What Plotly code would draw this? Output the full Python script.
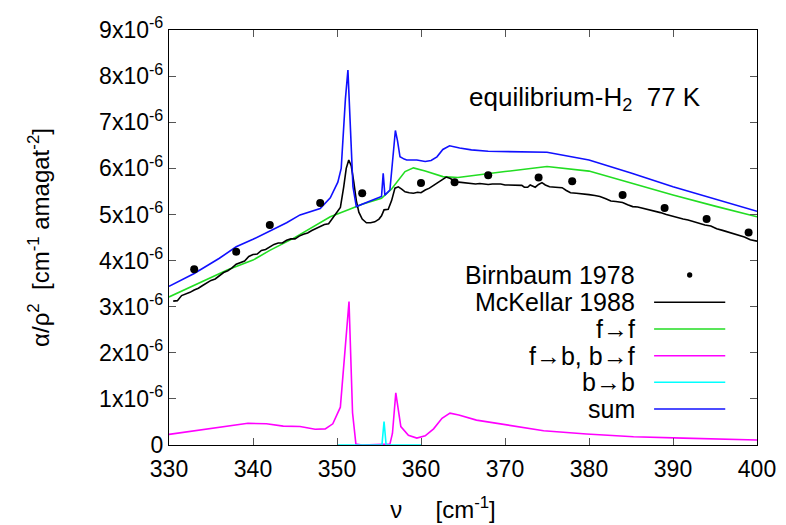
import plotly.graph_objects as go

E = 1e-6  # unit of the y values below

# Birnbaum 1978 (measured points)
birn_x = [333.0, 338.0, 342.0, 348.0, 353.0, 360.0, 364.0, 368.0, 374.0, 378.0, 384.0, 389.0, 394.0, 399.0]
birn_y = [3.81, 4.19, 4.77, 5.25, 5.46, 5.68, 5.70, 5.85, 5.80, 5.72, 5.42, 5.14, 4.90, 4.61]

# McKellar 1988
mck_x = [330.5, 331.0, 331.5, 332.0, 332.5, 333.0, 333.5, 334.0, 334.5, 335.0, 335.5, 336.0, 336.5, 337.0,
         337.5, 338.0, 338.5, 339.0, 339.5, 340.0, 340.5, 341.0, 341.5, 342.0, 342.5, 343.0, 343.5, 344.0,
         344.5, 345.0, 345.5, 346.0, 346.5, 347.0, 347.5, 348.0, 348.5, 349.0, 349.5, 350.0, 350.4, 350.8,
         351.1, 351.4, 351.7, 352.0, 352.3, 352.6, 353.0, 353.5, 354.0, 354.5, 355.0, 355.3, 355.6, 356.1,
         356.5, 356.9, 357.3, 357.7, 358.1, 358.6, 359.1, 359.6, 360.0, 360.5, 361.0, 361.5, 362.0, 362.5,
         363.0, 363.5, 364.0, 364.5, 365.0, 365.5, 366.0, 366.5, 367.0, 367.5, 368.0, 368.5, 369.0, 369.5,
         370.0, 370.5, 371.0, 371.5, 372.0, 372.3, 372.7, 373.0, 373.3, 373.6, 374.0, 374.4, 374.8, 375.3,
         376.0, 376.8, 377.3, 377.8, 378.5, 379.3, 380.0, 380.7, 381.3, 382.0, 382.6, 383.2, 384.0, 384.6,
         385.2, 385.8, 386.5, 387.2, 387.8, 388.5, 389.2, 389.8, 390.5, 391.2, 391.8, 392.5, 393.2, 393.8,
         394.5, 395.2, 395.8, 396.5, 397.2, 397.8, 398.5, 399.2, 400.0]
mck_y = [3.12, 3.13, 3.24, 3.27, 3.31, 3.36, 3.40, 3.46, 3.52, 3.57, 3.60, 3.68, 3.74, 3.78,
         3.84, 3.92, 3.96, 3.99, 4.09, 4.13, 4.14, 4.22, 4.24, 4.30, 4.35, 4.38, 4.38, 4.44,
         4.47, 4.47, 4.53, 4.57, 4.60, 4.65, 4.69, 4.74, 4.78, 4.80, 4.92, 5.05, 5.15, 5.60,
         6.00, 6.18, 6.05, 5.70, 5.30, 5.05, 4.90, 4.82, 4.82, 4.84, 4.90, 4.97, 5.10, 5.11,
         5.30, 5.57, 5.60, 5.55, 5.49, 5.47, 5.46, 5.48, 5.47, 5.53, 5.57, 5.63, 5.69, 5.76,
         5.81, 5.78, 5.72, 5.70, 5.69, 5.68, 5.66, 5.66, 5.67, 5.66, 5.65, 5.66, 5.66, 5.66,
         5.64, 5.64, 5.64, 5.63, 5.63, 5.59, 5.59, 5.64, 5.62, 5.59, 5.65, 5.69, 5.64, 5.60,
         5.59, 5.58, 5.52, 5.47, 5.46, 5.45, 5.43, 5.41, 5.39, 5.34, 5.29, 5.28, 5.26, 5.21,
         5.17, 5.16, 5.13, 5.10, 5.08, 5.04, 5.00, 4.97, 4.92, 4.90, 4.88, 4.84, 4.79, 4.77,
         4.75, 4.69, 4.66, 4.62, 4.57, 4.55, 4.51, 4.45, 4.42]

# f->f
ff_x = [330.0, 332.0, 334.9, 337.0, 340.0, 342.0, 344.8, 347.0, 349.2, 351.5, 353.0, 355.3, 356.5,
        358.1, 359.1, 360.5, 362.6, 364.4, 366.0, 370.0, 375.0, 380.0, 385.0, 390.0, 395.0, 400.0]
ff_y = [3.21, 3.38, 3.62, 3.80, 4.01, 4.22, 4.48, 4.72, 4.95, 5.11, 5.22, 5.35, 5.55,
        5.93, 6.01, 5.94, 5.82, 5.80, 5.84, 5.93, 6.04, 5.94, 5.68, 5.42, 5.18, 4.95]

# f->b, b->f
fb_x = [330.0, 335.0, 339.4, 341.6, 343.6, 345.6, 347.4, 348.6, 349.5, 350.4, 351.43, 351.85, 352.25,
        353.0, 356.3, 356.6, 357.0, 357.6, 358.5, 359.5, 360.5, 361.5, 362.5, 363.45, 364.5, 366.6,
        370.2, 374.6, 379.7, 385.3, 391.2, 400.0]
fb_y = [0.23, 0.35, 0.47, 0.46, 0.41, 0.40, 0.34, 0.35, 0.46, 0.82, 3.11, 0.70, 0.02,
        0.0, 0.02, 0.25, 1.13, 0.40, 0.21, 0.15, 0.20, 0.35, 0.58, 0.69, 0.65, 0.54,
        0.43, 0.31, 0.24, 0.18, 0.15, 0.11]

# b->b
bb_x = [350.0, 355.35, 355.6, 355.85, 360.0]
bb_y = [0.0, 0.0, 0.51, 0.0, 0.0]

# sum
sum_x = [330.0, 333.0, 336.0, 338.0, 340.0, 342.0, 344.0, 345.6, 347.0, 348.0, 349.2, 350.1, 350.5,
         351.0, 351.3, 351.6, 351.9, 352.3, 353.0, 354.0, 355.3, 355.5, 355.7, 356.3, 356.6, 356.95,
         357.2, 357.5, 358.0, 358.3, 359.5, 360.5, 361.2, 361.9, 362.6, 363.4, 364.6, 366.0, 368.0,
         370.0, 372.0, 375.0, 380.0, 385.0, 390.0, 395.0, 400.0]
sum_y = [3.44, 3.72, 4.05, 4.30, 4.46, 4.64, 4.82, 4.99, 5.07, 5.13, 5.36, 5.70, 6.00,
         7.50, 8.13, 7.00, 5.60, 5.17, 5.22, 5.28, 5.39, 5.89, 5.42, 5.53, 6.20, 6.82,
         6.60, 6.25, 6.20, 6.18, 6.18, 6.15, 6.17, 6.25, 6.41, 6.49, 6.44, 6.40, 6.37,
         6.36, 6.36, 6.35, 6.18, 5.90, 5.60, 5.33, 5.07]

y_tick_vals = [0, 1, 2, 3, 4, 5, 6, 7, 8, 9]
y_tick_text = ["0"] + ["%dx10<sup>-6</sup>" % v for v in y_tick_vals[1:]]
x_tick_vals = [330, 340, 350, 360, 370, 380, 390, 400]

legend_labels = ["Birnbaum 1978", "McKellar 1988", "f\u2192f", "f\u2192b, b\u2192f", "b\u2192b", "sum"]
legend_colors = ["black", "black", "#22dd22", "#ff00ff", "#00ffff", "#1010ff"]

FONT = "Liberation Sans, Arial, sans-serif"


def sc(vals):
    return [v * E for v in vals]


fig = go.Figure()
lw = 1.6
fig.add_trace(go.Scatter(x=fb_x, y=sc(fb_y), mode="lines", line=dict(color=legend_colors[3], width=lw),
                         showlegend=False, cliponaxis=False))
fig.add_trace(go.Scatter(x=bb_x, y=sc(bb_y), mode="lines", line=dict(color=legend_colors[4], width=lw),
                         showlegend=False, cliponaxis=False))
fig.add_trace(go.Scatter(x=ff_x, y=sc(ff_y), mode="lines", line=dict(color=legend_colors[2], width=lw),
                         showlegend=False))
fig.add_trace(go.Scatter(x=mck_x, y=sc(mck_y), mode="lines", line=dict(color="black", width=lw),
                         showlegend=False))
fig.add_trace(go.Scatter(x=sum_x, y=sc(sum_y), mode="lines", line=dict(color=legend_colors[5], width=lw),
                         showlegend=False))
fig.add_trace(go.Scatter(x=birn_x, y=sc(birn_y), mode="markers",
                         marker=dict(color="black", size=8), showlegend=False))

# gnuplot-style key: right-aligned text followed by sample
key_text_right = 0.796
key_sample = (0.825, 0.946)
key_y = [0.4096, 0.3438, 0.2795, 0.2152, 0.1511, 0.0867]
annotations = []
shapes = []
for i, lab in enumerate(legend_labels):
    annotations.append(dict(x=key_text_right, y=key_y[i], xref="paper", yref="paper", text=lab,
                            showarrow=False, xanchor="right", yanchor="middle",
                            font=dict(family=FONT, size=25, color="black")))
    if i == 0:
        cx = (key_sample[0] + key_sample[1]) / 2
        shapes.append(dict(type="circle", xref="paper", yref="paper",
                           x0=cx - 0.0045, x1=cx + 0.0045, y0=key_y[i] - 0.0064, y1=key_y[i] + 0.0064,
                           fillcolor="black", line=dict(width=0)))
    else:
        shapes.append(dict(type="line", xref="paper", yref="paper", x0=key_sample[0], x1=key_sample[1],
                           y0=key_y[i], y1=key_y[i], line=dict(color=legend_colors[i], width=lw)))

annotations.append(dict(x=0.908, y=0.836, xref="paper", yref="paper",
                        text="equilibrium-H<sub>2</sub>&nbsp; 77 K", showarrow=False,
                        xanchor="right", yanchor="middle", font=dict(family=FONT, size=26, color="black")))

axis_common = dict(showgrid=False, zeroline=False, showline=True, linecolor="black", linewidth=1.2,
                   mirror="ticks", ticks="inside", ticklen=7, tickcolor="#555555", tickwidth=1,
                   automargin=False)

fig.update_layout(
    width=786, height=525,
    margin=dict(l=169, r=29, t=30, b=80),
    paper_bgcolor="white", plot_bgcolor="white",
    font=dict(family=FONT, color="black"),
    xaxis=dict(range=[330, 400], tickvals=x_tick_vals, ticklabelstandoff=3,
               tickfont=dict(family=FONT, size=23, color="black"),
               title=dict(text="\u03bd&nbsp;&nbsp;&nbsp;&nbsp; [cm<sup>-1</sup>]&nbsp;&nbsp;&nbsp;&nbsp;&nbsp;&nbsp;",
                          standoff=20, font=dict(family=FONT, size=24)), **axis_common),
    yaxis=dict(range=[0, 9e-6], tickvals=[v * E for v in y_tick_vals], ticktext=y_tick_text,
               tickfont=dict(family=FONT, size=23, color="black"),
               title=dict(text="\u03b1/\u03c1<sup>2</sup>&nbsp; [cm<sup>-1</sup> amagat<sup>-2</sup>]",
                          standoff=42, font=dict(family=FONT, size=24)), **axis_common),
    annotations=annotations,
    shapes=shapes,
    showlegend=False,
)

fig.write_html("out.html")
